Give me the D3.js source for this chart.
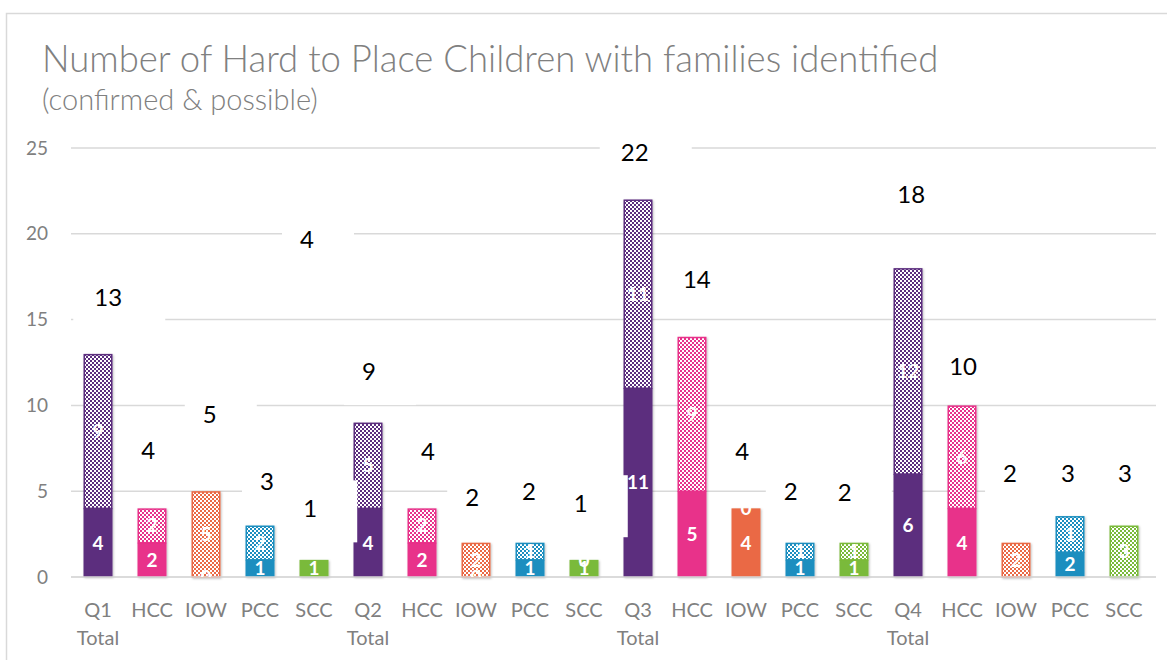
<!DOCTYPE html>
<html>
<head>
<meta charset="utf-8">
<script src="https://cdn.jsdelivr.net/npm/d3@7"></script>
<style>
  body { margin: 0; background: #fff; }
  svg { display: block; font-family: Lato, "Open Sans", sans-serif; }
</style>
</head>
<body>
<script>
// categories: first line / second line of each tick label
const tickLines = [
  ["Q1", "Total"], ["HCC"], ["IOW"], ["PCC"], ["SCC"],
  ["Q2", "Total"], ["HCC"], ["IOW"], ["PCC"], ["SCC"],
  ["Q3", "Total"], ["HCC"], ["IOW"], ["PCC"], ["SCC"],
  ["Q4", "Total"], ["HCC"], ["IOW"], ["PCC"], ["SCC"]
];
const groups = ["Total", "HCC", "IOW", "PCC", "SCC",
                "Total", "HCC", "IOW", "PCC", "SCC",
                "Total", "HCC", "IOW", "PCC", "SCC",
                "Total", "HCC", "IOW", "PCC", "SCC"];

// bar segments as drawn (confirmed at bottom, possible on top)
const confirmed = [4, 2, 0, 1, 1,  4, 2, 0, 1, 1,  11, 5, 4, 1, 1,  6, 4, 0, 1.45, 0];
const possible  = [9, 2, 5, 2, 0,  5, 2, 2, 1, 0,  11, 9, 0, 1, 1,  12, 6, 2, 2.1, 3];

// labels printed on the segments
const confirmedText = ["4", "2", "0", "1", "1",  "4", "2", "0", "1", "1",
                       "11", "5", "4", "1", "1",  "6", "4", null, "2", null];
const possibleText  = ["9", "2", "5", "2", null,  "5", "2", "2", "1", "0",
                       "11", "9", "0", "1", "1",  "12", "6", "2", "1", "3"];

// total labels: value level where each sits, and shift in category units
const totalText  = ["13", "4", "5", "3", "1",  "9", "4", "2", "2", "1",
                    "22", "14", "4", "2", "2",  "18", "10", "2", "3", "3"];
const totalLevel = [16.3, 7.4, 9.5, 5.6, 4.0,  12.0, 7.35, 4.65, 5.0, 4.3,
                    24.75, 17.35, 7.3, 5.0, 4.95,  22.3, 12.25, 6.05, 6.05, 6.05];
const totalShift = [0.19, -0.07, 0.07, 0.13, -0.07,  0.02, 0.11, -0.07, -0.02, -0.06,
                    -0.06, 0.09, -0.07, -0.17, -0.17,  0.06, 0.02, -0.11, -0.04, 0.02];

// stray label above Q1 SCC
const extraText = ["4"];
const extraIndex = [4];
const extraLevel = [19.65];
const extraShift = [-0.13];

const yTicks = [0, 5, 10, 15, 20, 25];

const colors = {
  Total: "#5b2d7e",
  HCC: "#e8308a",
  IOW: "#ea6944",
  PCC: "#1b8ebf",
  SCC: "#7aba3a"
};

const width = 1167, height = 660;

const svg = d3.select("body").append("svg")
    .attr("width", width)
    .attr("height", height);

const defs = svg.append("defs");

Object.keys(colors).forEach(k => {
    const p = defs.append("pattern")
        .attr("id", "chk-" + k)
        .attr("width", 4).attr("height", 4)
        .attr("patternUnits", "userSpaceOnUse");
    p.append("rect").attr("width", 4).attr("height", 4).attr("fill", colors[k]);
    p.append("rect").attr("x", 0).attr("y", 0).attr("width", 2).attr("height", 2).attr("fill", "#fff");
    p.append("rect").attr("x", 2).attr("y", 2).attr("width", 2).attr("height", 2).attr("fill", "#fff");
});

defs.append("filter")
    .attr("id", "shadow")
    .attr("x", "-20%").attr("y", "-20%").attr("width", "140%").attr("height", "140%")
  .append("feDropShadow")
    .attr("dx", 1).attr("dy", 1).attr("stdDeviation", 1)
    .attr("flood-color", "#000").attr("flood-opacity", 0.25);

// chart frame
svg.append("rect")
    .attr("x", 6.5).attr("y", 13.5)
    .attr("width", 1200).attr("height", 700)
    .attr("fill", "none")
    .attr("stroke", "#d9d9d9")
    .attr("stroke-width", 1.5);

// title
svg.append("text")
    .attr("x", 42).attr("y", 72)
    .attr("fill", "#808080")
    .style("font-size", "36.5px")
    .style("font-weight", 300)
    .text("Number of Hard to Place Children with families identified");

svg.append("text")
    .attr("x", 42).attr("y", 110)
    .attr("fill", "#808080")
    .style("font-size", "29px")
    .style("font-weight", 300)
    .text("(confirmed & possible)");

const idx = d3.range(tickLines.length);

const x = d3.scaleBand()
    .domain(idx)
    .range([71, 1151])
    .paddingInner(0.463)
    .paddingOuter(0.2315);

const y = d3.scaleLinear()
    .domain([0, 25])
    .range([577, 148]);

// gridlines
svg.append("g")
    .selectAll("line")
    .data(yTicks)
    .join("line")
    .attr("x1", 71).attr("x2", 1156)
    .attr("y1", d => y(d)).attr("y2", d => y(d))
    .attr("stroke", "#d9d9d9")
    .attr("stroke-width", 1.5);

// y tick labels
svg.append("g")
    .selectAll("text")
    .data(yTicks)
    .join("text")
    .attr("x", 48)
    .attr("y", d => y(d))
    .attr("dy", "0.35em")
    .attr("text-anchor", "end")
    .attr("fill", "#808080")
    .style("font-size", "19px")
    .text(d => d);

// x tick labels
const xl = svg.append("g")
    .selectAll("text")
    .data(idx)
    .join("text")
    .attr("x", i => x(i) + x.bandwidth() / 2)
    .attr("y", 617)
    .attr("text-anchor", "middle")
    .attr("fill", "#808080")
    .style("font-size", "20px");

xl.selectAll("tspan")
    .data(i => tickLines[i].map(t => ({ t, i })))
    .join("tspan")
    .attr("x", d => x(d.i) + x.bandwidth() / 2)
    .attr("dy", (d, j) => j === 0 ? 0 : 28)
    .text(d => d.t);

// bars
defs.append("clipPath")
    .attr("id", "plot")
  .append("rect")
    .attr("x", 60).attr("y", 100)
    .attr("width", 1110).attr("height", y(0) - 100);

const segs = [];
idx.forEach(i => {
    segs.push({ i, y0: 0, y1: confirmed[i], kind: "c", label: confirmedText[i] });
    segs.push({ i, y0: confirmed[i], y1: confirmed[i] + possible[i], kind: "p", label: possibleText[i] });
});

const barG = svg.append("g")
    .attr("filter", "url(#shadow)");

barG.selectAll("rect")
    .data(segs.filter(d => d.y1 > d.y0))
    .join("rect")
    .attr("x", d => x(d.i) + (d.kind === "p" ? 0.75 : 0))
    .attr("width", d => x.bandwidth() - (d.kind === "p" ? 1.5 : 0))
    .attr("y", d => y(d.y1) + (d.kind === "p" ? 0.75 : 0))
    .attr("height", d => y(d.y0) - y(d.y1) - (d.kind === "p" ? 0.75 : 0))
    .attr("fill", d => d.kind === "c" ? colors[groups[d.i]] : "url(#chk-" + groups[d.i] + ")")
    .attr("stroke", d => d.kind === "p" ? colors[groups[d.i]] : "none")
    .attr("stroke-width", 1.5);

// axis line
svg.append("line")
    .attr("x1", 71).attr("x2", 1156)
    .attr("y1", y(0)).attr("y2", y(0))
    .attr("stroke", "#d9d9d9")
    .attr("stroke-width", 1.5);

// segment labels
svg.append("g")
    .attr("clip-path", "url(#plot)")
    .selectAll("text")
    .data(segs.filter(d => d.label !== null))
    .join("text")
    .attr("x", d => x(d.i) + x.bandwidth() / 2)
    .attr("y", d => (y(d.y0) + y(d.y1)) / 2)
    .attr("dy", "0.36em")
    .attr("text-anchor", "middle")
    .attr("fill", "#fff")
    .style("font-size", "19px")
    .style("font-weight", "bold")
    .text(d => d.label);

// total labels, white boxed
const totals = idx.map(i => ({ i, text: totalText[i], level: totalLevel[i], shift: totalShift[i] }))
    .concat(extraText.map((t, k) => ({ i: extraIndex[k], text: t, level: extraLevel[k], shift: extraShift[k] })));

const cx = d => x(d.i) + x.bandwidth() / 2 + d.shift * x.step();

const tg = svg.append("g");

tg.selectAll("rect")
    .data(totals)
    .join("rect")
    .attr("x", d => cx(d) + 11 - (d.text.length > 1 ? 46 : 36))
    .attr("y", d => y(d.level) - 28)
    .attr("width", d => d.text.length > 1 ? 92 : 72)
    .attr("height", 62)
    .attr("fill", "#fff");

tg.selectAll("text")
    .data(totals)
    .join("text")
    .attr("x", cx)
    .attr("y", d => y(d.level))
    .attr("dy", "0.36em")
    .attr("text-anchor", "middle")
    .attr("fill", "#000")
    .style("font-size", "24px")
    .text(d => d.text);
</script>
</body>
</html>
